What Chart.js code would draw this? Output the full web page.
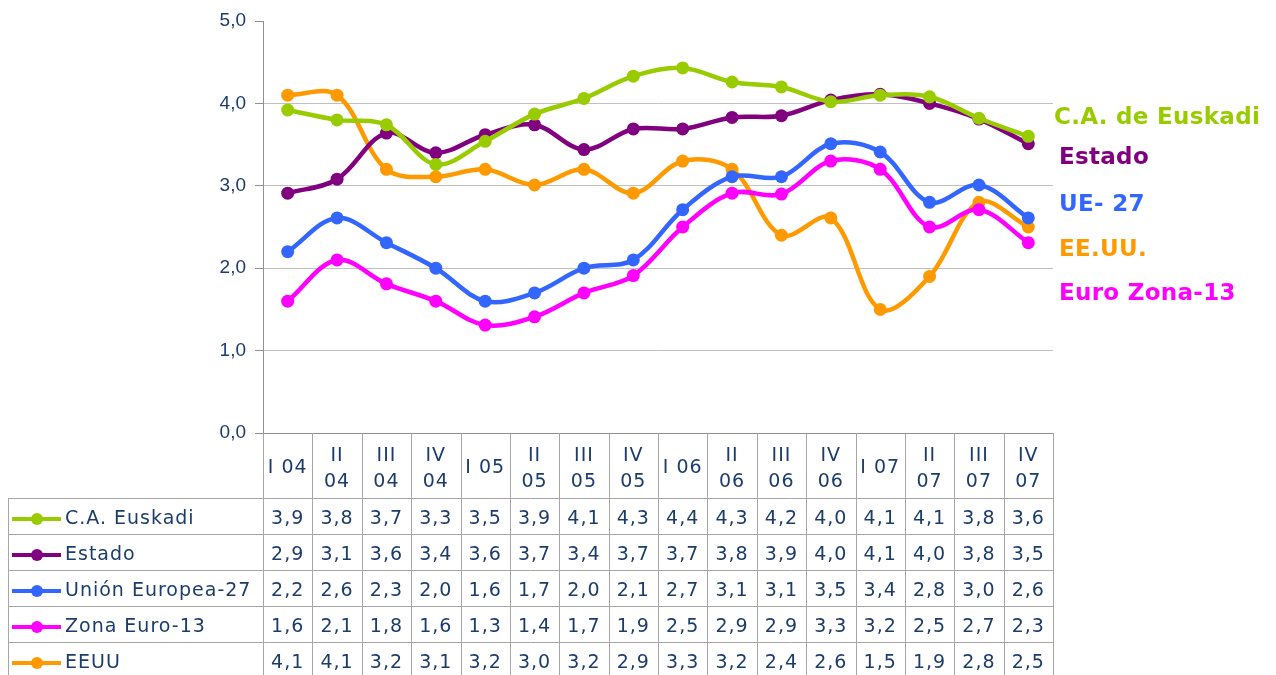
<!DOCTYPE html>
<html>
<head>
<meta charset="utf-8">
<script src="https://cdn.jsdelivr.net/npm/chart.js@4/dist/chart.umd.min.js"></script>
<style>
  body { margin: 0; background: #fff; }
  #wrap { width: 1276px; height: 675px; }
</style>
</head>
<body>
<div id="wrap"><canvas id="chart" width="1276" height="675"></canvas></div>
<script>
// quarters (each entry = lines of the header cell)
const quarters = [
  ["I 04"], ["II", "04"], ["III", "04"], ["IV", "04"],
  ["I 05"], ["II", "05"], ["III", "05"], ["IV", "05"],
  ["I 06"], ["II", "06"], ["III", "06"], ["IV", "06"],
  ["I 07"], ["II", "07"], ["III", "07"], ["IV", "07"]
];

const euskadi = [3.92, 3.8, 3.74, 3.26, 3.54, 3.87, 4.06, 4.33, 4.43, 4.26, 4.2, 4.02, 4.1, 4.08, 3.82, 3.6];
const estado = [2.91, 3.08, 3.64, 3.4, 3.62, 3.74, 3.44, 3.69, 3.69, 3.83, 3.85, 4.04, 4.11, 4.0, 3.81, 3.51];
const ue27 = [2.2, 2.61, 2.31, 2.0, 1.6, 1.7, 2.0, 2.1, 2.71, 3.11, 3.11, 3.51, 3.41, 2.8, 3.01, 2.61];
const zonaEuro = [1.6, 2.1, 1.81, 1.6, 1.31, 1.41, 1.7, 1.91, 2.5, 2.91, 2.9, 3.3, 3.2, 2.5, 2.71, 2.31];
const eeuu = [4.1, 4.1, 3.2, 3.11, 3.2, 3.01, 3.2, 2.91, 3.3, 3.2, 2.4, 2.61, 1.5, 1.9, 2.8, 2.5];

const yTicks = [0, 1, 2, 3, 4, 5];

const textColor = "#1c3d6c";
const fontFamily = "'DejaVu Sans', Verdana, sans-serif";

const series = [
  { name: "C.A. Euskadi", tag: "C.A. de Euskadi", color: "#99cc00", data: euskadi },
  { name: "Estado", tag: "Estado", color: "#800080", data: estado },
  { name: "Unión Europea-27", tag: "UE- 27", color: "#3366ff", data: ue27 },
  { name: "Zona Euro-13", tag: "Euro Zona-13", color: "#ff00ff", data: zonaEuro },
  { name: "EEUU", tag: "EE.UU.", color: "#ff9900", data: eeuu }
];

// order of the tags on the right
const tagOrder = [0, 1, 2, 4, 3];
const tagY = [118, 158, 205, 250, 294];

function fmt(v) {
  return v.toFixed(1).replace(".", ",");
}

// Data table under the plot + series tags on the right
const tablePlugin = {
  id: "dataTable",
  afterDraw(chart) {
    const ctx = chart.ctx;
    const area = chart.chartArea;
    const x = chart.scales.x;
    const n = quarters.length;
    const colW = (area.right - area.left) / n;
    const headTop = area.bottom;
    const headBottom = headTop + 65;
    const rowH = 36;
    const tableLeft = 8;
    const bottom = chart.height;

    ctx.save();
    ctx.strokeStyle = "#a6a6a6";
    ctx.lineWidth = 1;

    // vertical column lines
    for (let i = 0; i <= n; i++) {
      const px = Math.round(area.left + i * colW) + 0.5;
      ctx.beginPath();
      ctx.moveTo(px, headTop);
      ctx.lineTo(px, bottom);
      ctx.stroke();
    }
    // left edge of label column
    ctx.beginPath();
    ctx.moveTo(tableLeft + 0.5, headBottom);
    ctx.lineTo(tableLeft + 0.5, bottom);
    ctx.stroke();
    // horizontal row lines
    for (let r = 0; r <= series.length; r++) {
      const py = Math.round(headBottom + r * rowH) + 0.5;
      ctx.beginPath();
      ctx.moveTo(tableLeft, py);
      ctx.lineTo(area.right, py);
      ctx.stroke();
    }

    // header labels
    ctx.fillStyle = textColor;
    ctx.font = "19px " + fontFamily;
    ctx.letterSpacing = "1px";
    ctx.textAlign = "center";
    ctx.textBaseline = "middle";
    quarters.forEach((lines, i) => {
      const cx = x.getPixelForValue(i);
      if (lines.length === 1) {
        ctx.fillText(lines[0], cx, headTop + 35);
      } else {
        ctx.fillText(lines[0], cx, headTop + 23);
        ctx.fillText(lines[1], cx, headTop + 49);
      }
    });

    // rows
    series.forEach((s, r) => {
      const cy = headBottom + r * rowH + rowH / 2 + 3;
      // legend key
      ctx.strokeStyle = s.color;
      ctx.lineWidth = 4;
      ctx.beginPath();
      ctx.moveTo(12, cy);
      ctx.lineTo(61, cy);
      ctx.stroke();
      ctx.fillStyle = s.color;
      ctx.beginPath();
      ctx.arc(37, cy, 6, 0, Math.PI * 2);
      ctx.fill();
      ctx.fillStyle = textColor;
      ctx.textAlign = "left";
      ctx.fillText(s.name, 65, cy);
      ctx.textAlign = "center";
      s.data.forEach((v, i) => {
        ctx.fillText(fmt(v), x.getPixelForValue(i), cy);
      });
    });

    // tags on the right
    ctx.font = "bold 23px " + fontFamily;
    ctx.letterSpacing = "0.3px";
    ctx.textAlign = "left";
    tagOrder.forEach((si, k) => {
      ctx.fillStyle = series[si].color;
      ctx.fillText(series[si].tag, si === 0 ? area.right + 1 : area.right + 6, tagY[k]);
    });
    ctx.restore();
  }
};

new Chart(document.getElementById("chart"), {
  type: "line",
  data: {
    labels: quarters.map((q) => q.join(" ")),
    datasets: series.map((s) => ({
      label: s.name,
      data: s.data,
      borderColor: s.color,
      backgroundColor: s.color,
      borderWidth: 4.5,
      pointRadius: 6.5,
      pointBorderWidth: 0,
      tension: 0.35,
      fill: false
    }))
  },
  options: {
    responsive: false,
    animation: false,
    layout: { padding: { top: 21, right: 223, bottom: 242, left: 0 } },
    plugins: {
      legend: { display: false },
      tooltip: { enabled: false }
    },
    scales: {
      x: {
        display: false,
        offset: true
      },
      y: {
        min: yTicks[0],
        max: yTicks[yTicks.length - 1],
        afterBuildTicks: (scale) => {
          scale.ticks = yTicks.map((v) => ({ value: v }));
        },
        afterFit: (scale) => {
          scale.width = 263;
        },
        border: { color: "#909090", width: 1 },
        grid: {
          color: (c) => (c.tick && c.tick.value === 5 ? "rgba(0,0,0,0)" : c.tick && c.tick.value === 0 ? "#909090" : "#c0c0c0"),
          tickColor: "#909090",
          tickLength: 8,
          lineWidth: 1
        },
        ticks: {
          color: textColor,
          padding: 9,
          font: { family: "'Liberation Sans', Arial, sans-serif", size: 19 },
          callback: (v) => fmt(v)
        }
      }
    }
  },
  plugins: [tablePlugin]
});
</script>
</body>
</html>
